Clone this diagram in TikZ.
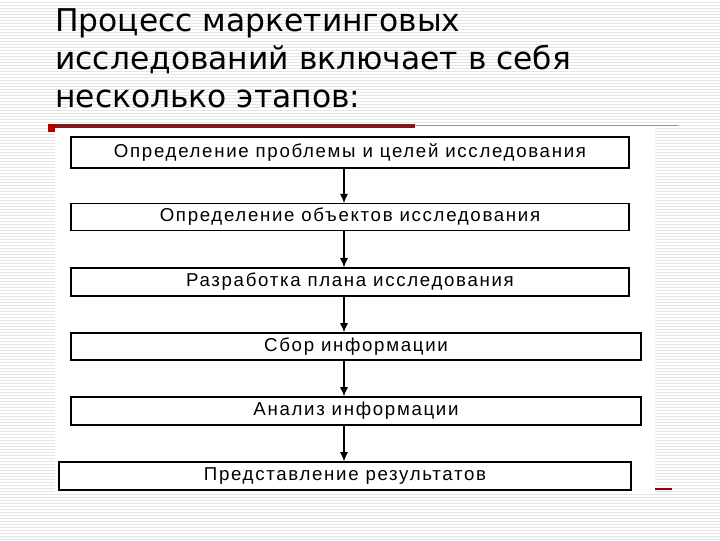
\documentclass[tikz,border=0pt]{standalone}
\usepackage{fontspec}
\setmainfont{DejaVu Sans}
\newfontfamily\boxfont[LetterSpace=9]{Liberation Sans}
\usetikzlibrary{arrows.meta}
\begin{document}
\begin{tikzpicture}[x=0.75pt,y=-0.75pt,
  stage/.style={draw=black,line width=0.9pt,fill=white,font=\boxfont\fontsize{14}{16}\selectfont},
  arr/.style={-{Latex[length=7pt,width=6pt]},line width=0.9pt}]
\useasboundingbox (0,0) rectangle (720,540);
\fill[white] (0,0) rectangle (720,540);
\foreach \y in {2,5,...,539} \draw[black!10,line width=0.5pt] (0,\y) -- (720,\y);
\node[anchor=north west,align=left,inner sep=0pt,font=\fontsize{23.5}{28.5}\selectfont] (title) at (55,8)
 {Процесс маркетинговых\\исследований включает в себя\\несколько этапов:};
\fill[white] (55,128) rectangle (655,492);
\draw[red!45!black!90,line width=3pt] (50,126) -- (415,126);
\draw[red!40!gray!70,line width=1pt] (415,125.5) -- (678,125.5);
\fill[red!70!black] (48,124) rectangle (55,132);
\node[stage,minimum width=558*0.75pt,minimum height=31*0.75pt] (s1) at (350,152.5) {Определение проблемы и целей исследования};
\node[stage,minimum width=558*0.75pt,minimum height=26*0.75pt] (s2) at (350,217) {Определение объектов исследования};
\node[stage,minimum width=558*0.75pt,minimum height=28*0.75pt] (s3) at (350,282) {Разработка плана исследования};
\node[stage,minimum width=570*0.75pt,minimum height=27*0.75pt] (s4) at (356,346.5) {Сбор информации};
\node[stage,minimum width=570*0.75pt,minimum height=28*0.75pt] (s5) at (356,411) {Анализ информации};
\node[stage,minimum width=572*0.75pt,minimum height=28*0.75pt] (s6) at (345,476) {Представление результатов};
\draw[arr] (s1.south -| 344,0) -- (s2.north -| 344,0);
\draw[arr] (s2.south -| 344,0) -- (s3.north -| 344,0);
\draw[arr] (s3.south -| 344,0) -- (s4.north -| 344,0);
\draw[arr] (s4.south -| 344,0) -- (s5.north -| 344,0);
\draw[arr] (s5.south -| 344,0) -- (s6.north -| 344,0);
\draw[red!60!black,line width=1pt] (655,489) -- (672,489);
\end{tikzpicture}
\end{document}
